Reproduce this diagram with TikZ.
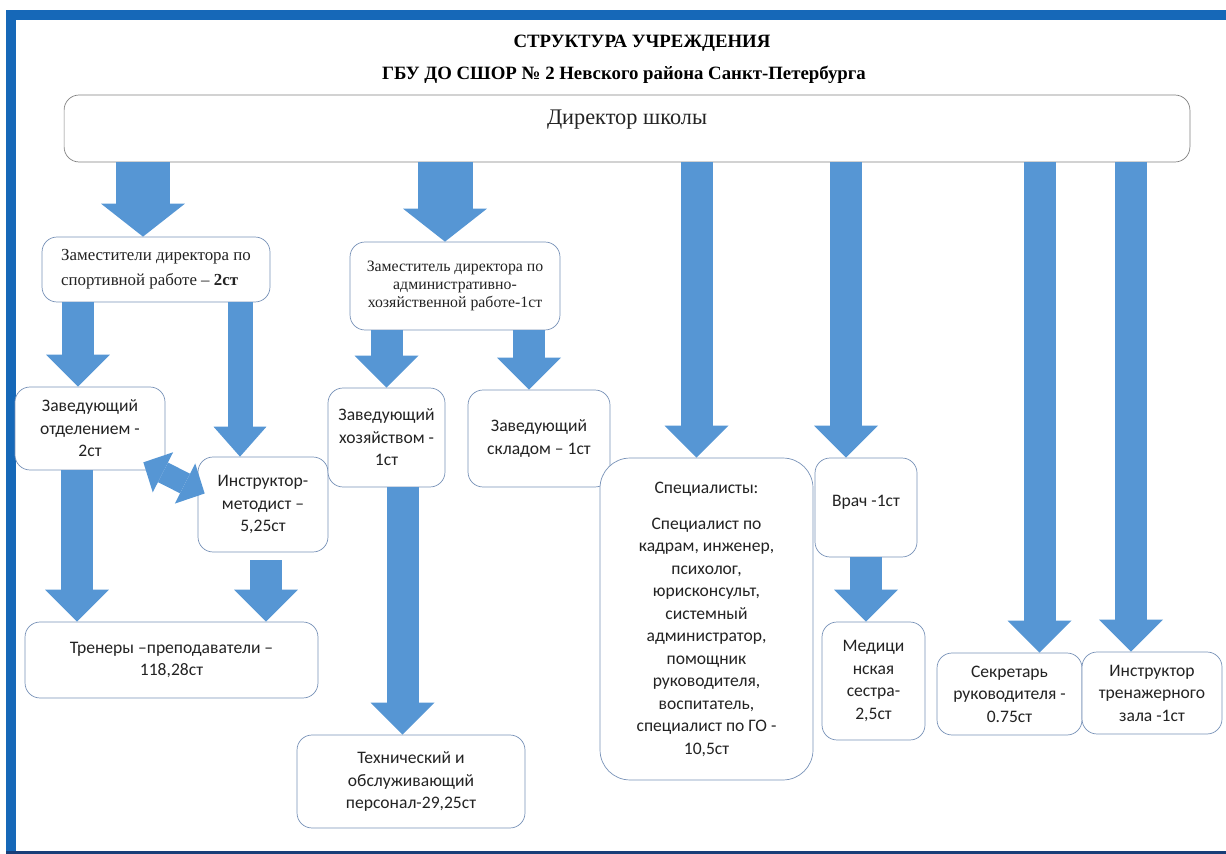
\documentclass[tikz,border=0pt]{standalone}
\usepackage{fontspec}
\setmainfont{Liberation Serif}
\newfontfamily\calfont{Carlito}
\usetikzlibrary{arrows.meta,calc}
\definecolor{framebl}{RGB}{22,104,184}
\definecolor{framedk}{RGB}{24,62,120}
\definecolor{arrbl}{RGB}{86,150,212}
\definecolor{boxln}{RGB}{120,146,184}
\definecolor{txt}{RGB}{35,35,35}
\tikzset{
  unit/.style={draw=boxln, rounded corners=0.3cm, fill=white, text=txt, align=center, inner sep=2pt},
  sans/.style={unit, font=\calfont\fontsize{10}{12.8}\selectfont},
  serif/.style={unit, font=\fontsize{9.6}{14}\selectfont},
  bigarr/.style={arrbl, line width=1.1cm, -{Triangle[width=1.68cm,length=0.66cm,line width=0pt]}},
  midarr/.style={arrbl, line width=0.64cm, -{Triangle[width=1.28cm,length=0.64cm,line width=0pt]}},
  thinarr/.style={arrbl, line width=0.5cm, -{Triangle[width=1.06cm,length=0.6cm,line width=0pt]}},
  twoarr/.style={arrbl, line width=0.44cm, {Triangle[width=0.9cm,length=0.44cm,line width=0pt]}-{Triangle[width=0.9cm,length=0.44cm,line width=0pt]}}
}
\begin{document}
\begin{tikzpicture}[x=0.02cm,y=-0.02cm]
      \useasboundingbox (0,0) rectangle (1226,854);
      % Frame
      \fill[framebl] (6,10) rectangle (1226,20);
      \fill[framebl] (6,10) rectangle (16,854);
      \fill[framedk] (6,851) rectangle (1226,854);
      % Define nodes
      \node[font=\bfseries\fontsize{10.7}{12}\selectfont] (title) at (642,43) {СТРУКТУРА УЧРЕЖДЕНИЯ};
      \node[font=\bfseries\fontsize{10.7}{12}\selectfont] (subtitle) at (624,75) {ГБУ ДО СШОР № 2 Невского района Санкт-Петербурга};
      \node[unit, draw=gray, font=\fontsize{12.7}{15}\selectfont, minimum width=22.52cm, minimum height=1.34cm] (dir) at (627,128.5) {\raisebox{0.44cm}{Директор школы}};
      \node[serif, align=left, minimum width=4.56cm, minimum height=1.3cm] (zam1) at (156,269.5) {Заместители директора по\\спортивной работе – \textbf{2ст}};
      \node[serif, font=\fontsize{9}{10.3}\selectfont, minimum width=4.2cm, minimum height=1.76cm] (zam2) at (455,286) {Заместитель директора по\\административно-\\хозяйственной работе-1ст};
      \node[sans, minimum width=3cm, minimum height=1.66cm] (otd) at (90,428.5) {Заведующий\\отделением -\\2ст};
      \node[sans, minimum width=2.6cm, minimum height=1.9cm] (instr) at (263,504.5) {Инструктор-\\методист –\\5,25ст};
      \node[sans, minimum width=5.86cm, minimum height=1.52cm] (trainers) at (171.5,660) {\raisebox{0.2cm}{\begin{tabular}{@{}c@{}}Тренеры –преподаватели –\\118,28ст\end{tabular}}};
      \node[sans, minimum width=2.34cm, minimum height=1.98cm] (hoz) at (386.5,437.5) {Заведующий\\хозяйством -\\1ст};
      \node[sans, minimum width=2.84cm, minimum height=1.94cm] (skl) at (539,438.5) {Заведующий\\складом – 1ст};
      \node[sans, minimum width=4.56cm, minimum height=1.86cm] (tech) at (411,781.5) {Технический и\\обслуживающий\\персонал-29,25ст};
      \node[sans, rounded corners=0.6cm, minimum width=4.26cm, minimum height=6.44cm] (spec) at (706.5,619) {Специалисты:\\[0.27cm]Специалист по\\кадрам, инженер,\\психолог,\\юрисконсульт,\\системный\\администратор,\\помощник\\руководителя,\\воспитатель,\\специалист по ГО -\\10,5ст};
      \node[sans, minimum width=2.04cm, minimum height=1.98cm] (vrach) at (866,507.5) {\raisebox{0.28cm}{Врач -1ст}};
      \node[sans, minimum width=2.06cm, minimum height=2.36cm] (med) at (873.5,681) {Медици\\нская\\сестра-\\2,5ст};
      \node[sans, minimum width=2.9cm, minimum height=1.64cm] (secr) at (1009.5,694) {Секретарь\\руководителя -\\0.75ст};
      \node[sans, minimum width=2.8cm, minimum height=1.64cm] (gym) at (1152,693) {Инструктор\\тренажерного\\зала -1ст};
      % Connect nodes
      \draw[bigarr] ($(dir.south -| zam1.north)+(-13,0)$) -- ($(zam1.north)+(-13,0)$);
      \draw[bigarr] ($(dir.south -| zam2.north)+(-10,0)$) -- ($(zam2.north)+(-10,0)$);
      \draw[midarr] ($(dir.south -| spec.north)+(-10,0)$) -- ($(spec.north)+(-10,0)$);
      \draw[midarr] ($(dir.south -| vrach.north)+(-20,0)$) -- ($(vrach.north)+(-20,0)$);
      \draw[midarr] ($(dir.south -| secr.north)+(30,0)$) -- ($(secr.north)+(30,0)$);
      \draw[midarr] ($(dir.south -| gym.north)+(-21,0)$) -- ($(gym.north)+(-21,0)$);
      \draw[midarr] ($(zam1.south -| otd.north)+(-12,0)$) -- ($(otd.north)+(-12,0)$);
      \draw[thinarr] ($(zam1.south -| instr.north)+(-23,0)$) -- ($(instr.north)+(-23,0)$);
      \draw[midarr] ($(otd.south)+(-13,0)$) -- ($(trainers.north -| otd.south)+(-13,0)$);
      \draw[midarr] ($(instr.south)+(3,8)$) -- ($(trainers.north -| instr.south)+(3,0)$);
      \draw[midarr] (zam2.south -| hoz.north) -- (hoz.north);
      \draw[midarr] ($(zam2.south -| skl.north)+(-10,0)$) -- ($(skl.north)+(-10,0)$);
      \draw[midarr] ($(hoz.south)+(16,0)$) -- ($(tech.north -| hoz.south)+(16,0)$);
      \draw[midarr] (vrach.south) -- (med.north -| vrach.south);
      \draw[twoarr] ($(otd.south east)+(-22,-8)$) -- ($(instr.west)+(7,-11)$);
    \end{tikzpicture}
\end{document}
